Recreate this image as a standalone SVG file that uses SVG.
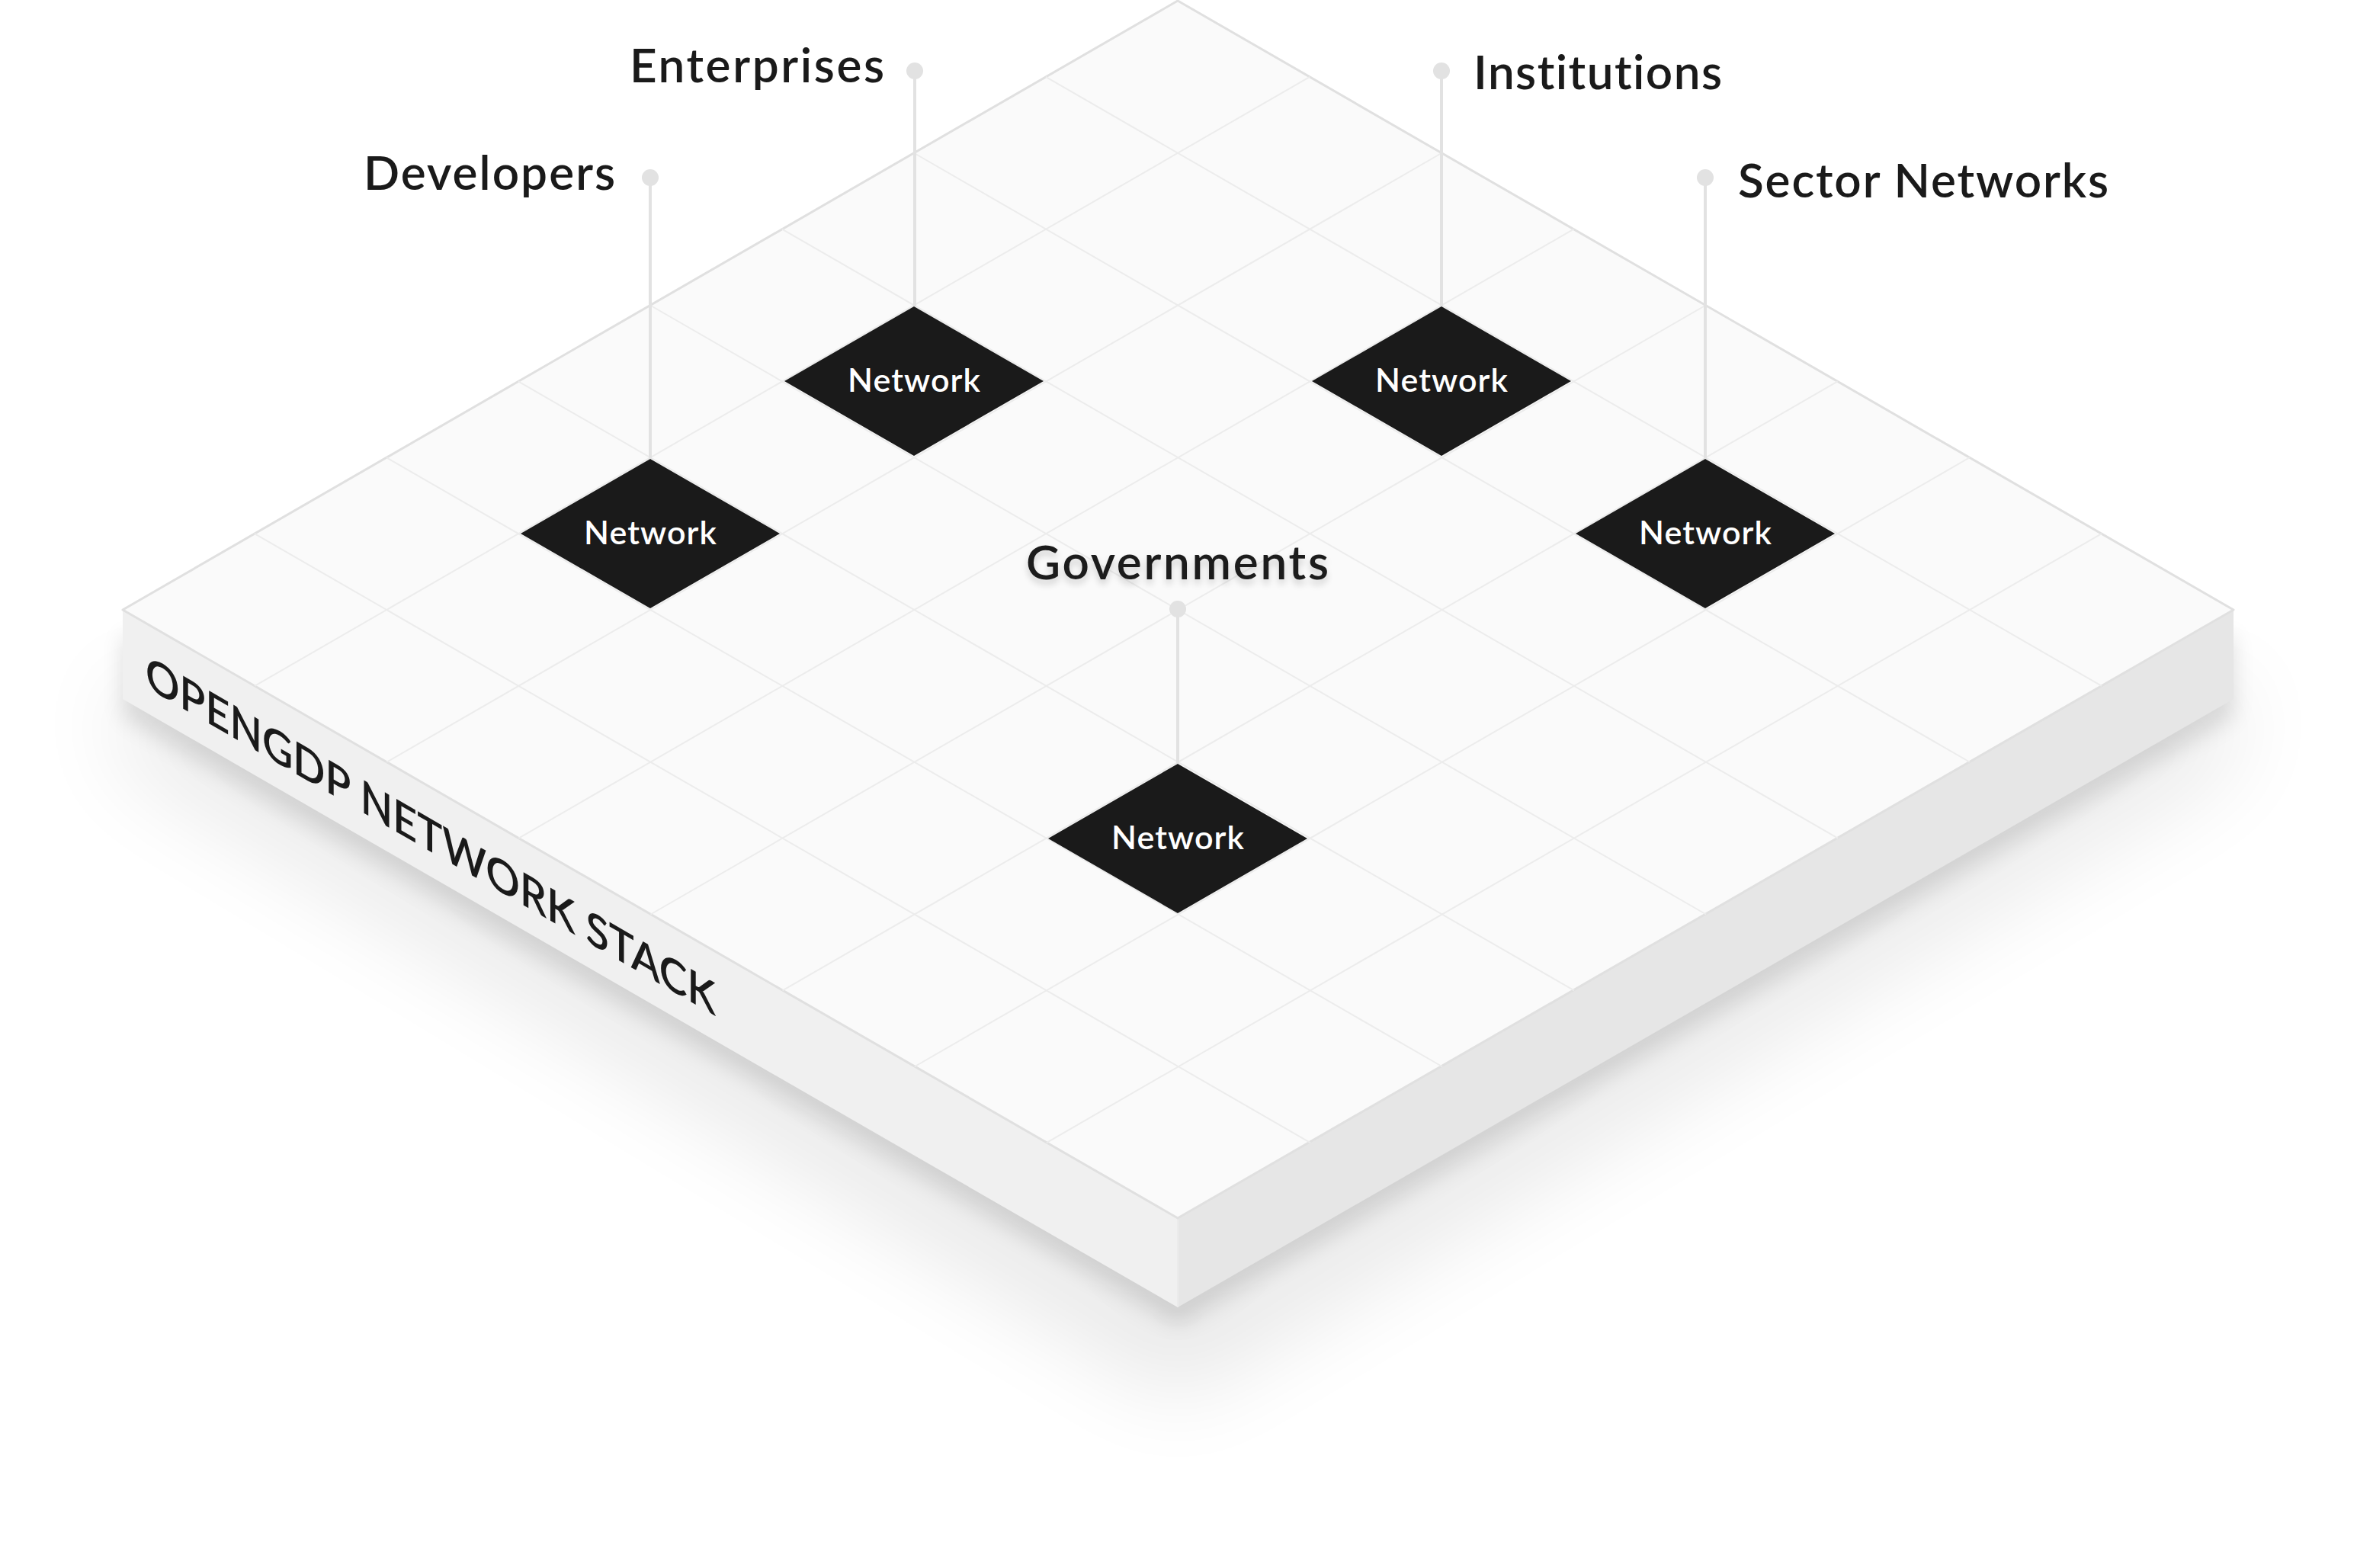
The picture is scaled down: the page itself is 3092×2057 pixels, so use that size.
<svg xmlns="http://www.w3.org/2000/svg" width="3092" height="2057" viewBox="0 0 3092 2057">
  <defs>
    <style>
      text { font-variant-ligatures: none; font-feature-settings: "liga" 0; }
      .grid { stroke: #ececec; stroke-width: 2; fill: none; }
      .label { font-family: Lato, "Liberation Sans", sans-serif; font-weight: 600; font-size: 62px; fill: #1a1a1a; }
      .ntext { font-family: Lato, "Liberation Sans", sans-serif; font-weight: 600; font-size: 43px; fill: #ffffff; text-anchor: middle; }
      .diamond { fill: #1a1a1a; }
      .stem { stroke: #e2e2e2; stroke-width: 4; fill: none; }
      .dot { fill: #e2e2e2; }
      .stack { font-family: Lato, "Liberation Sans", sans-serif; font-weight: 600; font-size: 60px; fill: #1a1a1a; }
    </style>
    <filter id="softShadow" filterUnits="userSpaceOnUse" x="0" y="0" width="3092" height="2057">
      <feGaussianBlur stdDeviation="60"/>
    </filter>
    <filter id="tightShadow" filterUnits="userSpaceOnUse" x="0" y="0" width="3092" height="2057">
      <feGaussianBlur stdDeviation="14"/>
    </filter>
    <filter id="textShadow" x="-10%" y="-30%" width="120%" height="180%">
      <feGaussianBlur in="SourceAlpha" stdDeviation="5"/>
      <feOffset dy="6" result="b"/>
      <feComponentTransfer in="b" result="c"><feFuncA type="linear" slope="0.18"/></feComponentTransfer>
      <feMerge><feMergeNode in="c"/><feMergeNode in="SourceGraphic"/></feMerge>
    </filter>
  </defs>

  <rect width="3092" height="2057" fill="#ffffff"/>

  <!-- platform -->
  <g id="platform">
    <polygon points="161,880 1545,1678 2930,880 2930,997 1545,1835 161,997" fill="#000" opacity="0.09" filter="url(#softShadow)"/>
    <polygon points="161,830 1545,1628 2930,830 2930,940 1545,1738 161,940" fill="#000" opacity="0.12" filter="url(#tightShadow)"/>
    <polygon id="left-side" points="161,800 1545,1598 1545,1715 161,917" fill="#f0f0f0"/>
    <polygon id="right-side" points="1545,1598 2930,800 2930,917 1545,1715" fill="#e6e6e6"/>
    <line x1="1545" y1="1598" x2="1545" y2="1715" stroke="#ebebeb" stroke-width="2"/>
    <polygon id="top-face" points="1545,1 2930,800 1545,1598 161,800" fill="#fafafa" stroke="#e0e0e0" stroke-width="3" stroke-linejoin="round"/>
    <g id="grid" class="grid">
      <line x1="1372" y1="100.9" x2="2757" y2="899.9"/>
      <line x1="1199" y1="200.75" x2="2584" y2="999.75"/>
      <line x1="1026" y1="300.6" x2="2411" y2="1099.6"/>
      <line x1="853" y1="400.5" x2="2238" y2="1199.5"/>
      <line x1="680" y1="500.4" x2="2065" y2="1299.4"/>
      <line x1="507" y1="600.25" x2="1892" y2="1399.25"/>
      <line x1="334" y1="700.1" x2="1719" y2="1499.1"/>
      <line x1="1718.1" y1="100.9" x2="334.1" y2="899.9"/>
      <line x1="1891.25" y1="200.75" x2="507.25" y2="999.75"/>
      <line x1="2064.4" y1="300.6" x2="680.4" y2="1099.6"/>
      <line x1="2237.5" y1="400.5" x2="853.5" y2="1199.5"/>
      <line x1="2410.6" y1="500.4" x2="1026.6" y2="1299.4"/>
      <line x1="2583.75" y1="600.25" x2="1199.75" y2="1399.25"/>
      <line x1="2756.9" y1="700.1" x2="1372.9" y2="1499.1"/>
    </g>
    <text class="stack" transform="translate(161,800) skewY(30)" x="30" y="84" textLength="748" lengthAdjust="spacingAndGlyphs">OPENGDP NETWORK STACK</text>
  </g>

  <!-- connectors -->
  <g id="connectors">
    <line class="stem" x1="853" y1="233" x2="853" y2="602"/>
    <circle class="dot" cx="853" cy="233" r="11"/>
    <line class="stem" x1="1200" y1="93" x2="1200" y2="402"/>
    <circle class="dot" cx="1200" cy="93" r="11"/>
    <line class="stem" x1="1891" y1="93" x2="1891" y2="402"/>
    <circle class="dot" cx="1891" cy="93" r="11"/>
    <line class="stem" x1="2237" y1="233" x2="2237" y2="602"/>
    <circle class="dot" cx="2237" cy="233" r="11"/>
    <line class="stem" x1="1545" y1="799" x2="1545" y2="1002"/>
    <circle class="dot" cx="1545" cy="799" r="11"/>
  </g>

  <!-- nodes -->
  <g id="node-developers">
    <polygon class="diamond" points="853,602 1023,700 853,798 683,700"/>
    <text class="ntext" x="853" y="714" textLength="174" lengthAdjust="spacing">Network</text>
  </g>
  <g id="node-enterprises">
    <polygon class="diamond" points="1199,402 1369,500 1199,598 1029,500"/>
    <text class="ntext" x="1199" y="514" textLength="174" lengthAdjust="spacing">Network</text>
  </g>
  <g id="node-institutions">
    <polygon class="diamond" points="1891,402 2061,500 1891,598 1721,500"/>
    <text class="ntext" x="1891" y="514" textLength="174" lengthAdjust="spacing">Network</text>
  </g>
  <g id="node-sector">
    <polygon class="diamond" points="2237,602 2407,700 2237,798 2067,700"/>
    <text class="ntext" x="2237" y="714" textLength="174" lengthAdjust="spacing">Network</text>
  </g>
  <g id="node-governments">
    <polygon class="diamond" points="1545,1002 1715,1100 1545,1198 1375,1100"/>
    <text class="ntext" x="1545" y="1114" textLength="174" lengthAdjust="spacing">Network</text>
  </g>

  <!-- labels -->
  <g id="labels">
    <text class="label" x="477" y="249" textLength="330" lengthAdjust="spacing">Developers</text>
    <text class="label" x="826" y="108" textLength="334" lengthAdjust="spacing">Enterprises</text>
    <text class="label" x="1933" y="117" textLength="326" lengthAdjust="spacing">Institutions</text>
    <text class="label" x="2280" y="259" textLength="486" lengthAdjust="spacing">Sector Networks</text>
    <text class="label" x="1346" y="760" textLength="397" lengthAdjust="spacing" filter="url(#textShadow)">Governments</text>
  </g>
</svg>
